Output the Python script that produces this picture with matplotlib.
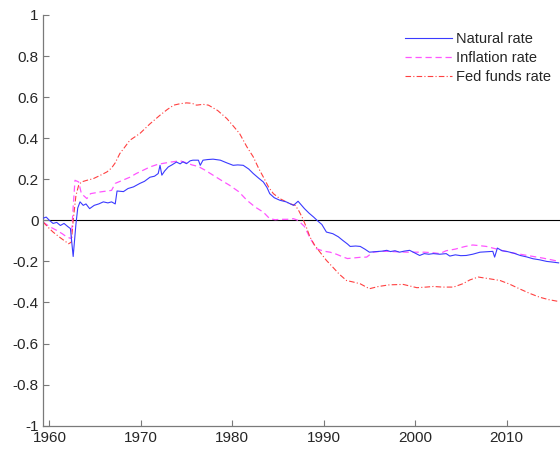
import matplotlib
matplotlib.use("Agg")
import matplotlib.pyplot as plt
import numpy as np

plt.rcParams['font.family'] = ['Liberation Sans', 'DejaVu Sans']

# ---------------- data ----------------
nat_years = [1959.3, 1959.65, 1960.0, 1960.4, 1960.8, 1961.2, 1961.6, 1962.0, 1962.3, 1962.6,
             1962.9, 1963.1, 1963.35, 1963.7, 1964.0, 1964.4, 1964.9, 1965.4, 1965.9, 1966.4,
             1966.8, 1967.2, 1967.4, 1968.1, 1968.6, 1969.2, 1969.9, 1970.4, 1971.0, 1971.5,
             1971.9, 1972.1, 1972.3, 1972.6, 1973.0, 1973.4, 1973.9, 1974.3, 1974.6, 1975.0,
             1975.4, 1975.7, 1976.3, 1976.5, 1976.8, 1977.3, 1977.9, 1978.7, 1979.4, 1980.1,
             1980.6, 1981.2, 1981.8, 1982.3, 1982.9, 1983.4, 1983.8, 1984.1, 1984.6, 1985.2,
             1985.9, 1986.7, 1987.2, 1987.9, 1988.4, 1988.9, 1989.4, 1989.8, 1990.3, 1991.0,
             1991.6, 1992.1, 1992.6, 1992.9, 1993.5, 1994.0, 1994.5, 1995.0, 1995.8, 1996.4,
             1996.9, 1997.3, 1997.8, 1998.3, 1998.8, 1999.4, 1999.8, 2000.5, 2001.0, 2001.5,
             2002.0, 2002.7, 2003.4, 2003.8, 2004.4, 2005.0, 2005.6, 2006.3, 2007.1, 2007.8,
             2008.5, 2008.7, 2009.0, 2009.5, 2010.0, 2010.8, 2011.5, 2012.2, 2012.9, 2013.6,
             2014.4, 2015.0, 2015.7]
nat_values = [0.01, 0.016, 0.0, -0.015, -0.01, -0.025, -0.015, -0.03, -0.04, -0.176,
              -0.02, 0.06, 0.09, 0.073, 0.08, 0.057, 0.073, 0.08, 0.09, 0.085,
              0.09, 0.08, 0.143, 0.14, 0.155, 0.163, 0.18, 0.19, 0.21, 0.215,
              0.228, 0.268, 0.22, 0.24, 0.26, 0.27, 0.284, 0.275, 0.285, 0.276,
              0.29, 0.293, 0.293, 0.268, 0.293, 0.296, 0.298, 0.293, 0.28, 0.268,
              0.27, 0.268, 0.25, 0.228, 0.205, 0.187, 0.16, 0.13, 0.11, 0.098,
              0.09, 0.073, 0.093, 0.057, 0.035, 0.016, -0.005, -0.02, -0.057, -0.065,
              -0.08, -0.098, -0.115, -0.127, -0.125, -0.127, -0.14, -0.155, -0.152, -0.15,
              -0.146, -0.152, -0.148, -0.155, -0.15, -0.146, -0.155, -0.171, -0.162, -0.165,
              -0.162, -0.165, -0.162, -0.174, -0.168, -0.172, -0.171, -0.165, -0.155, -0.153,
              -0.151, -0.179, -0.135, -0.148, -0.151, -0.16, -0.171, -0.178, -0.187, -0.192,
              -0.2, -0.203, -0.207]

inf_years = [1959.3, 1960.0, 1960.8, 1961.4, 1961.9, 1962.4, 1962.6, 1962.8, 1963.2, 1963.5,
             1964.1, 1964.5, 1965.5, 1966.3, 1966.8, 1967.2, 1968.0, 1968.8, 1969.5, 1970.3,
             1971.0, 1971.8, 1972.5, 1973.3, 1974.3, 1975.0, 1975.6, 1976.3, 1977.0, 1977.9,
             1978.8, 1979.7, 1980.7, 1981.6, 1982.5, 1983.4, 1984.1, 1984.7, 1985.2, 1986.0,
             1986.7, 1987.2, 1987.9, 1988.5, 1989.2, 1990.0, 1990.7, 1991.4, 1992.1, 1992.6,
             1993.3, 1994.0, 1994.7, 1995.4, 1996.2, 1997.0, 1998.0, 1999.1, 2000.0, 2001.0,
             2002.0, 2002.7, 2003.4, 2004.4, 2005.4, 2006.3, 2007.0, 2007.8, 2008.5, 2009.2,
             2010.2, 2011.5, 2012.8, 2014.0, 2015.0, 2015.7]
inf_values = [-0.008, -0.03, -0.049, -0.065, -0.081, -0.089, 0.065, 0.195, 0.187, 0.13,
              0.106, 0.13, 0.138, 0.143, 0.146, 0.18, 0.195, 0.21, 0.228, 0.245,
              0.26, 0.272, 0.278, 0.284, 0.29, 0.28, 0.27, 0.262, 0.245, 0.22,
              0.195, 0.171, 0.14, 0.098, 0.065, 0.04, 0.008, 0.003, 0.005, 0.005,
              0.008, 0.0, -0.03, -0.085, -0.138, -0.15, -0.155, -0.165, -0.178, -0.186,
              -0.183, -0.18, -0.179, -0.155, -0.151, -0.151, -0.153, -0.155, -0.155, -0.155,
              -0.158, -0.162, -0.148, -0.14, -0.128, -0.12, -0.123, -0.127, -0.135, -0.143,
              -0.155, -0.165, -0.175, -0.184, -0.193, -0.2]

fed_years = [1959.3, 1960.0, 1960.4, 1961.2, 1962.1, 1962.4, 1962.6, 1962.9, 1963.2, 1963.5,
             1964.1, 1964.8, 1965.6, 1966.3, 1966.8, 1967.2, 1967.7, 1968.3, 1968.8, 1969.9,
             1971.0, 1972.1, 1972.9, 1973.6, 1974.3, 1975.0, 1975.6, 1976.1, 1976.8, 1977.4,
             1978.4, 1979.4, 1980.1, 1980.8, 1981.6, 1982.3, 1982.9, 1983.4, 1984.0, 1984.5,
             1985.2, 1986.3, 1986.9, 1987.3, 1987.7, 1988.1, 1988.5, 1989.0, 1989.6, 1990.3,
             1991.0, 1991.7, 1992.5, 1993.2, 1994.0, 1995.0, 1996.0, 1997.2, 1998.7, 2000.2,
             2001.2, 2002.0, 2003.0, 2004.2, 2005.2, 2006.0, 2006.9, 2008.2, 2009.3, 2010.3,
             2011.4, 2012.5, 2013.6, 2014.6, 2015.7]
fed_values = [-0.008, -0.04, -0.057, -0.085, -0.114, -0.106, 0.0, 0.12, 0.171, 0.187,
              0.195, 0.203, 0.22, 0.236, 0.255, 0.28, 0.325, 0.36, 0.39, 0.423,
              0.47, 0.512, 0.54, 0.561, 0.568, 0.572, 0.57, 0.561, 0.565, 0.561,
              0.535, 0.496, 0.46, 0.423, 0.358, 0.309, 0.252, 0.211, 0.16, 0.13,
              0.106, 0.081, 0.073, 0.045, 0.01, -0.033, -0.081, -0.12, -0.155, -0.195,
              -0.228, -0.262, -0.293, -0.3, -0.309, -0.333, -0.322, -0.314, -0.312, -0.328,
              -0.325, -0.322, -0.325, -0.325, -0.309, -0.29, -0.276, -0.285, -0.293, -0.31,
              -0.333, -0.355, -0.374, -0.386, -0.395]

labels = ["Natural rate", "Inflation rate", "Fed funds rate"]
x_ticks = [1960, 1970, 1980, 1990, 2000, 2010]
y_ticks = [-1, -0.8, -0.6, -0.4, -0.2, 0, 0.2, 0.4, 0.6, 0.8, 1]
y_ticklabels = ["-1", "-0.8", "-0.6", "-0.4", "-0.2", "0", "0.2", "0.4", "0.6", "0.8", "1"]

# ---------------- figure ----------------
fig = plt.figure(figsize=(5.6, 4.5), dpi=100)
ax = fig.add_axes([43 / 560, 1 - 425.7 / 450, 1 - 43 / 560, (425.7 - 15) / 450])

ax.axhline(0, color='black', lw=0.8, zorder=1)
ax.plot(nat_years, nat_values, color='#3a3aff', lw=0.8, label=labels[0], zorder=3)
ax.plot(inf_years, inf_values, color='#ff55ff', lw=0.9, ls=(0, (5, 3)), label=labels[1], zorder=2)
ax.plot(fed_years, fed_values, color='#ff4040', lw=0.8, ls=(0, (5, 2, 1, 2)), label=labels[2], zorder=2)

ax.set_xlim(1959.3, 2015.85)
ax.set_ylim(-1, 1)
ax.set_xticks(x_ticks)
ax.set_yticks(y_ticks)
ax.set_yticklabels(y_ticklabels)

for s in ['top', 'right']:
    ax.spines[s].set_visible(False)
for s in ['left', 'bottom']:
    ax.spines[s].set_color('#7a7a7a')
    ax.spines[s].set_linewidth(0.9)
ax.tick_params(direction='in', length=4, width=0.8, color='#7a7a7a',
               labelsize=11, labelcolor='#262626', pad=3)
ax.tick_params(axis='x', pad=4)

leg = ax.legend(loc='upper left', bbox_to_anchor=(405 / 560, 1 - 32 / 450),
                bbox_transform=fig.transFigure, frameon=False, fontsize=10.5,
                handlelength=3.2, handletextpad=0.3, labelspacing=0.33,
                borderpad=0, borderaxespad=0)
for t in leg.get_texts():
    t.set_color('#262626')

fig.savefig("out.png", dpi=100)
